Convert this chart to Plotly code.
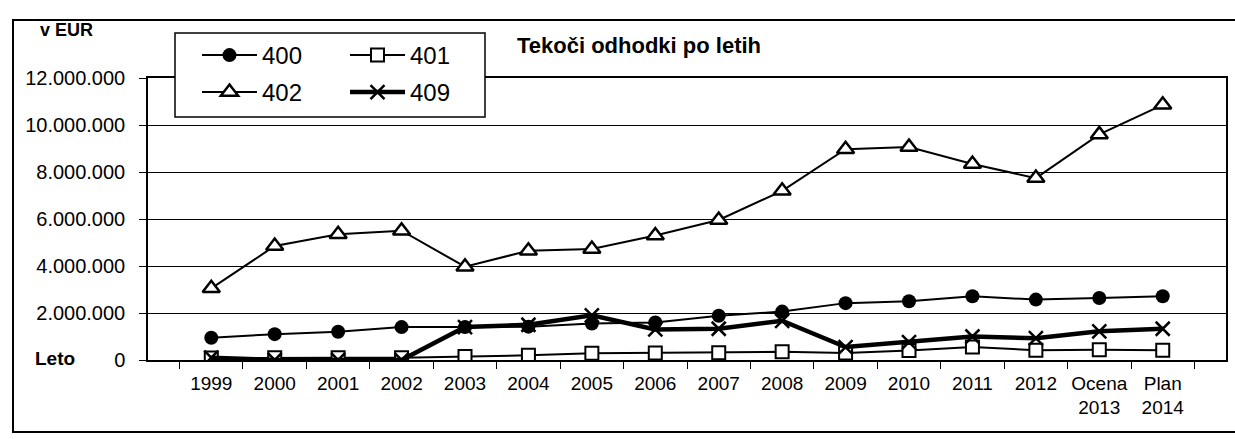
import plotly.graph_objects as go

categories = ["1999", "2000", "2001", "2002", "2003", "2004", "2005", "2006", "2007",
              "2008", "2009", "2010", "2011", "2012", "Ocena<br>2013", "Plan<br>2014"]
s400 = [950000, 1100000, 1200000, 1400000, 1400000, 1420000, 1550000, 1600000, 1880000,
        2060000, 2420000, 2500000, 2710000, 2570000, 2640000, 2710000]
s401 = [80000, 100000, 100000, 100000, 150000, 200000, 290000, 300000, 310000,
        350000, 300000, 400000, 550000, 420000, 440000, 410000]
s402 = [3050000, 4850000, 5350000, 5500000, 3970000, 4650000, 4720000, 5300000, 5960000,
        7200000, 8970000, 9060000, 8340000, 7740000, 9600000, 10860000]
s409 = [100000, 0, 0, 0, 1400000, 1500000, 1900000, 1300000, 1330000,
        1670000, 550000, 760000, 1000000, 930000, 1220000, 1330000]
y_ticks = [0, 2000000, 4000000, 6000000, 8000000, 10000000, 12000000]

FONT = "Liberation Sans, Arial, sans-serif"
fig = go.Figure()
fig.add_trace(go.Scatter(x=categories, y=s400, name="400", mode="lines+markers",
                         line=dict(color="black", width=2),
                         marker=dict(symbol="circle", size=14, color="black"),
                         legend="legend"))
fig.add_trace(go.Scatter(x=categories, y=s401, name="401", mode="lines+markers",
                         line=dict(color="black", width=2),
                         marker=dict(symbol="square", size=13, color="white",
                                     line=dict(color="black", width=2)),
                         legend="legend"))
fig.add_trace(go.Scatter(x=categories, y=s402, name="402", mode="lines+markers",
                         line=dict(color="black", width=2),
                         marker=dict(symbol="triangle-up", size=15, color="white",
                                     line=dict(color="black", width=2.5)),
                         legend="legend2"))
fig.add_trace(go.Scatter(x=categories, y=s409, name="409", mode="lines+markers",
                         line=dict(color="black", width=4.5),
                         marker=dict(symbol="x-thin-open", size=14, color="black",
                                     line=dict(color="black", width=2.5)),
                         legend="legend2"))

L, R, T, B = 148, 1226, 78, 360
W, H = 1235, 439
pw, ph = R - L, B - T

def px(x):
    return (x - L) / pw

def py(y):
    return (B - y) / ph

legend_common = dict(orientation="h", xanchor="left", yanchor="top", entrywidth=78,
                     entrywidthmode="pixels", bgcolor="rgba(0,0,0,0)", borderwidth=0,
                     font=dict(family=FONT, size=24, color="black"), itemwidth=55,
                     tracegroupgap=0)
fig.update_layout(
    width=W, height=H,
    margin=dict(l=L, r=W - R, t=T, b=H - B, autoexpand=False),
    paper_bgcolor="white", plot_bgcolor="white",
    separators=",.",
    font=dict(family=FONT, size=19.5, color="black"),
    showlegend=True,
    legend=dict(x=px(197), y=py(33), **legend_common),
    legend2=dict(x=px(197), y=py(70), **legend_common),
    xaxis=dict(type="category", showline=True, linecolor="black", linewidth=1.5,
               mirror=True, ticks="outside", ticklen=7, tickcolor="black",
               tickson="boundaries", showgrid=False, tickangle=0,
               ticklabelstandoff=5,
               tickfont=dict(family=FONT, size=19, color="black")),
    yaxis=dict(range=[0, 12000000], tickvals=y_ticks, tickformat=",d",
               showline=True, linecolor="black", linewidth=1.5, mirror=True,
               ticks="outside", ticklen=7, tickcolor="black", ticklabelstandoff=10,
               showgrid=True, gridcolor="black", gridwidth=1.2, zeroline=False,
               tickfont=dict(family=FONT, size=20, color="black")),
    shapes=[
        dict(type="rect", xref="paper", yref="paper", x0=px(175), x1=px(485),
             y0=py(117), y1=py(33), line=dict(color="black", width=1.5),
             fillcolor="white", layer="above"),
        dict(type="rect", xref="paper", yref="paper", x0=px(13), x1=px(1250),
             y0=py(432), y1=py(20), line=dict(color="black", width=2),
             fillcolor="rgba(0,0,0,0)", layer="below"),
    ],
    annotations=[
        dict(text="<b>Tekoči odhodki po letih</b>", xref="paper", yref="paper",
             x=px(515), y=py(45), xanchor="left", yanchor="middle", showarrow=False,
             font=dict(family=FONT, size=22, color="black")),
        dict(text="<b>v EUR</b>", xref="paper", yref="paper", x=px(38), y=py(30),
             xanchor="left", yanchor="middle", showarrow=False,
             font=dict(family=FONT, size=18, color="black")),
        dict(text="<b>Leto</b>", xref="paper", yref="paper", x=px(33), y=py(358),
             xanchor="left", yanchor="middle", showarrow=False,
             font=dict(family=FONT, size=19, color="black")),
    ],
)

fig.write_html("out.html", config={"displayModeBar": False},
               post_script="document.body.style.margin='0';document.body.style.overflow='hidden';")
